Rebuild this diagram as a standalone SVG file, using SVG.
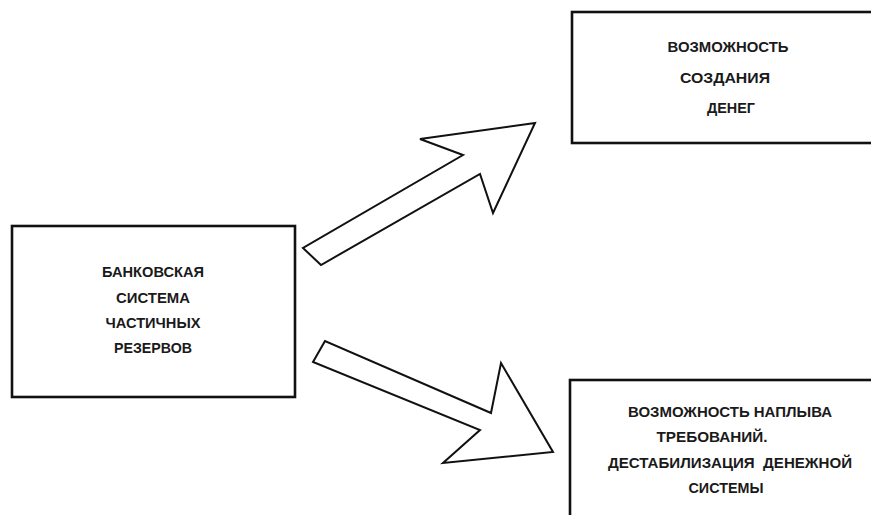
<svg xmlns="http://www.w3.org/2000/svg" width="871" height="515" viewBox="0 0 871 515">
  <style>
    .box { fill: #ffffff; stroke: #111111; stroke-width: 2.6; }
    .arrow { fill: #ffffff; stroke: #111111; stroke-width: 2; stroke-linejoin: miter; }
    .lbl { font-family: "Liberation Sans", Arial, sans-serif; font-weight: bold; font-size: 14px; fill: #1a1a1a; text-anchor: middle; }
  </style>
  <rect x="0" y="0" width="871" height="515" fill="#ffffff"/>

  <!-- source node -->
  <g id="fractional-reserve">
    <rect class="box" x="12" y="226" width="283" height="171"/>
    <text class="lbl" x="153" y="277" textLength="102" lengthAdjust="spacingAndGlyphs">БАНКОВСКАЯ</text>
    <text class="lbl" x="153" y="303" textLength="74" lengthAdjust="spacingAndGlyphs">СИСТЕМА</text>
    <text class="lbl" x="153" y="328" textLength="95" lengthAdjust="spacingAndGlyphs">ЧАСТИЧНЫХ</text>
    <text class="lbl" x="153" y="353" textLength="78" lengthAdjust="spacingAndGlyphs">РЕЗЕРВОВ</text>
  </g>

  <!-- upper outcome -->
  <g id="money-creation">
    <rect class="box" x="572" y="12" width="320" height="131"/>
    <text class="lbl" x="728" y="52" textLength="121" lengthAdjust="spacingAndGlyphs">ВОЗМОЖНОСТЬ</text>
    <text class="lbl" x="725" y="83" textLength="90" lengthAdjust="spacingAndGlyphs">СОЗДАНИЯ</text>
    <text class="lbl" x="731" y="113" textLength="48" lengthAdjust="spacingAndGlyphs">ДЕНЕГ</text>
  </g>

  <!-- lower outcome -->
  <g id="bank-run">
    <rect class="box" x="570" y="380" width="320" height="160"/>
    <text class="lbl" x="730" y="417" textLength="204" lengthAdjust="spacingAndGlyphs">ВОЗМОЖНОСТЬ НАПЛЫВА</text>
    <text class="lbl" x="712" y="442" textLength="111" lengthAdjust="spacingAndGlyphs">ТРЕБОВАНИЙ.</text>
    <text class="lbl" x="730" y="468" textLength="244" lengthAdjust="spacingAndGlyphs">ДЕСТАБИЛИЗАЦИЯ&#160;&#160;ДЕНЕЖНОЙ</text>
    <text class="lbl" x="726" y="493" textLength="75" lengthAdjust="spacingAndGlyphs">СИСТЕМЫ</text>
  </g>

  <!-- block arrows -->
  <g id="connectors">
    <polygon class="arrow" points="303,248 321,265 480,174 493,213 535,123 420,139 463,155"/>
    <polygon class="arrow" points="325,341 313,362 480,430 443,463 553,452 501,363 491,413"/>
  </g>
</svg>
